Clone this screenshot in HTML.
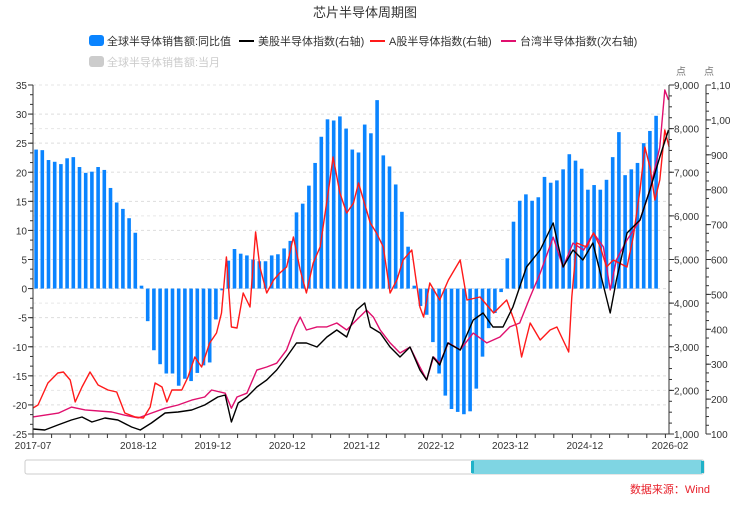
<!DOCTYPE html>
<html><head><meta charset="utf-8">
<style>
body{margin:0;background:#fff;width:730px;height:500px;overflow:hidden;font-family:"Liberation Sans","Noto Sans CJK SC",sans-serif;}
svg text{font-family:"Liberation Sans","Noto Sans CJK SC",sans-serif;}
</style></head>
<body>
<svg id="chart" width="730" height="500">
<text x="365" y="17" text-anchor="middle" font-size="13" fill="#333">芯片半导体周期图</text>
<g><rect x="89" y="35" width="15" height="11" rx="3" fill="#0a84ff"/><text x="107" y="45" font-size="11" fill="#333">全球半导体销售额:同比值</text></g>
<g><line x1="239" y1="41" x2="254" y2="41" stroke="#000" stroke-width="2"/><text x="258" y="45" font-size="11" fill="#333">美股半导体指数(右轴)</text></g>
<g><line x1="370" y1="41" x2="385" y2="41" stroke="#ff1a1a" stroke-width="2"/><text x="389" y="45" font-size="11" fill="#333">A股半导体指数(右轴)</text></g>
<g><line x1="501" y1="41" x2="516" y2="41" stroke="#e0106e" stroke-width="2"/><text x="520" y="45" font-size="11" fill="#333">台湾半导体指数(次右轴)</text></g>
<g><rect x="89" y="56" width="15" height="11" rx="3" fill="#ccc"/><text x="107" y="66" font-size="11" fill="#ccc">全球半导体销售额:当月</text></g>
<text x="676" y="75" font-size="10" fill="#777">点</text>
<text x="704" y="75" font-size="10" fill="#777">点</text>
<g id="grid"></g><g id="bars"></g><g id="lines"></g><g id="axes"></g>
<g>
<rect x="25" y="460" width="679" height="14" rx="2" fill="#fff" stroke="#ccc"/>
<rect x="472" y="460" width="230" height="14" fill="#7fd5e3"/>
<rect x="471" y="461" width="3" height="12" fill="#20b2c8"/>
<rect x="701" y="461" width="3" height="12" fill="#20b2c8"/>
</g>
<text x="710" y="493" text-anchor="end" font-size="11" fill="#e8202a">数据来源：Wind</text>
</svg>
<script>
const salesYoY=[23.9,23.8,22.1,21.8,21.4,22.4,22.6,20.9,19.9,20.1,20.9,20.4,17.3,14.8,13.7,12.1,9.6,0.5,
-5.6,-10.6,-13,-14.6,-14.6,-16.7,-15.5,-15.9,-14.5,-13.2,-12.7,-5.3,-0.3,4.8,
6.8,6.0,5.7,5.0,4.7,4.7,5.7,5.9,6.9,8.2,13.1,14.6,17.7,21.6,26.1,29.1,28.9,29.6,27.5,23.9,23.4,28.2,26.7,32.4,22.9,21.0,17.9,13.2,7.2,
0.5,-3.0,-4.5,-9.2,-14.6,-18.4,-20.7,-21.2,-21.6,-21.1,-17.2,-11.7,-6.8,-4.2,-0.6,5.2,11.5,15.1,16.2,15.1,15.7,19.2,18.2,18.6,20.5,23.1,22.0,20.6,17.0,17.8,17.0,18.7,22.6,26.9,19.5,20.5,21.6,25.0,27.1,29.7];
const usT=[0,1.9,4.0,6.2,7.9,9.5,11.6,13.7,15.9,17.3,19.1,21.3,23.4,25.6,27.7,29.8,31.0,32.0,33.1,34.5,36.1,37.7,39.3,40.9,42.5,44.1,45.8,47.4,49.0,50.6,52.2,53.5,54.4,56.0,57.6,59.2,60.8,62.4,63.5,64.5,65.6,66.9,68.9,71.0,72.6,74.2,75.8,77.4,79.6,81.8,83.9,85.5,87.1,88.7,90.3,91.5,93.1,94.1,95.8,97.9,99.5,101.1,102.5];
const usVal=[1115,1092,1206,1321,1390,1275,1367,1321,1160,1092,1252,1481,1504,1550,1665,1848,1894,1275,1711,1848,2077,2238,2467,2765,3086,3086,2994,3223,3384,3223,3842,4003,3452,3315,2994,2765,2994,2467,2238,2765,2581,3086,2925,3613,3773,3452,3452,3911,4828,5217,5836,4828,5217,4988,5378,4690,3773,4530,5607,5905,6592,7349,7968];
const aT=[0,0.8,2.4,4.0,4.9,6.0,6.8,7.9,9.2,10.5,12.1,13.5,14.8,16.5,17.8,18.9,19.7,20.8,21.6,22.4,24.0,25.0,26.1,27.2,28.5,29.6,30.4,31.2,32.0,32.9,33.9,35.0,35.9,36.6,37.7,38.8,39.8,40.9,42.0,43.1,44.1,45.2,46.3,47.6,48.4,49.5,50.6,51.7,52.5,53.3,54.4,55.4,56.5,57.6,58.7,59.7,61.1,62.4,63.0,64.0,65.6,67.0,68.9,70.0,72.1,74.3,76.4,78.0,78.8,80.2,81.8,83.4,84.5,86.4,86.9,87.7,89.3,90.4,91.5,92.5,93.6,95.8,96.8,97.9,98.7,99.5,100.3,101.1,101.9,102.6];
const aVal=[1596,1665,2169,2398,2421,2238,1733,2077,2421,2123,2008,1963,1481,1390,1367,1619,2169,2077,1733,2008,2008,2306,2765,2536,3086,3315,3773,5057,3452,3430,4232,3911,5630,4828,4232,4530,4690,4828,5515,4759,4232,4919,5286,6524,7349,6524,6065,6295,6753,6363,5836,5607,5286,4232,4530,4988,5217,3911,3682,4461,4071,4530,4988,4071,4140,3773,4071,3452,2765,3544,3154,3384,3452,2879,4140,5378,5286,5607,5286,4828,4988,4828,5515,6592,7578,7120,6363,6822,7968,7578];
const twT=[0,4.1,6.2,8.4,12.7,14.8,17.0,19.1,21.3,23.4,25.6,27.7,28.8,31.0,32.0,32.9,34.5,36.1,37.7,39.3,40.9,42.3,43.1,44.1,45.8,47.4,49.0,50.6,52.2,53.8,54.9,56.0,57.6,59.2,60.8,62.4,63.5,64.6,65.6,67.0,68.9,71.0,73.2,75.3,76.9,78.5,80.2,81.8,83.9,85.5,87.1,88.8,90.4,92.0,93.1,94.1,95.8,97.9,99.5,101.1,101.9,102.5];
const twVal=[149,160,177,169,163,154,146,160,174,183,197,206,226,217,174,206,217,283,292,303,341,407,435,398,407,407,418,398,427,455,435,398,361,332,349,292,255,321,303,361,341,389,361,378,407,418,493,561,664,578,647,627,676,636,513,599,656,713,799,922,1086,1057];
const leftTicks=[35,30,25,20,15,10,5,0,-5,-10,-15,-20,-25];
const rightTicks=[9000,8000,7000,6000,5000,4000,3000,2000,1000];
const right2Ticks=[1100,1000,900,800,700,600,500,400,300,200,100];
const xLabels=["2017-07","2018-12","2019-12","2020-12","2021-12","2022-12","2023-12","2024-12","2026-02"];
const xLabelT=[0,17,29,41,53,65,77,89,103];

const NS="http://www.w3.org/2000/svg";
const X0=33,X1=669,TOP=85,BOT=434,MW=6.2;
const xT=t=>X0+t*MW;
const yL=v=>TOP+(35-v)/60*(BOT-TOP);
const yR=v=>TOP+(9000-v)/8000*(BOT-TOP);
const yR2=v=>TOP+(1100-v)/1000*(BOT-TOP);
function mk(tag,attrs,parent){const e=document.createElementNS(NS,tag);for(const k in attrs)e.setAttribute(k,attrs[k]);parent.appendChild(e);return e;}
const grid=document.getElementById('grid'),bars=document.getElementById('bars'),lines=document.getElementById('lines'),axes=document.getElementById('axes');
// grid
leftTicks.forEach(v=>{const l=mk('line',{x1:X0,x2:X1,y1:yL(v),y2:yL(v),stroke:'#ddd','stroke-dasharray':'3,3'},grid);

});
rightTicks.forEach(v=>{const l=mk('line',{x1:X0,x2:X1,y1:yR(v),y2:yR(v),stroke:'#e6e6e6','stroke-dasharray':'3,3'},grid);

});
// bars
salesYoY.forEach((v,i)=>{const cx=xT(i+0.5);const y0=yL(0),y1=yL(v);
const r=mk('rect',{x:cx-1.8,y:Math.min(y0,y1),width:3.6,height:Math.max(0.8,Math.abs(y1-y0)),fill:'#0a84ff'},bars);

});
// lines
function path(ts,vs,fy,color,name){let d='';ts.forEach((t,i)=>{d+=(i?'L':'M')+xT(t).toFixed(1)+','+fy(vs[i]).toFixed(1);});
const p=mk('path',{d:d,fill:'none',stroke:color,'stroke-width':1.4,'stroke-linejoin':'round'},lines);

}
path(twT,twVal,yR2,'#e0106e','line-taiwan-semi-index');
path(aT,aVal,yR,'#ff1a1a','line-a-share-semi-index');
path(usT,usVal,yR,'#000','line-us-semi-index');
// left axis
mk('line',{x1:X0,x2:X0,y1:TOP,y2:BOT,stroke:'#333'},axes);
for(let v=35;v>=-25;v-=5/3){mk('line',{x1:X0-3,x2:X0,y1:yL(v),y2:yL(v),stroke:'#333'},axes);}
leftTicks.forEach(v=>{mk('line',{x1:X0-5,x2:X0,y1:yL(v),y2:yL(v),stroke:'#333'},axes);
const t=mk('text',{x:X0-6,y:yL(v)+4,'text-anchor':'end','font-size':10,fill:'#333'},axes);t.textContent=v;

});
// right axis
mk('line',{x1:X1,x2:X1,y1:TOP,y2:BOT,stroke:'#333'},axes);
for(let v=1000;v<=9000;v+=250){mk('line',{x1:X1,x2:X1+3,y1:yR(v),y2:yR(v),stroke:'#333'},axes);}
rightTicks.forEach(v=>{mk('line',{x1:X1,x2:X1+5,y1:yR(v),y2:yR(v),stroke:'#333'},axes);
const t=mk('text',{x:X1+5,y:yR(v)+4,'font-size':10,fill:'#333'},axes);t.textContent=v.toLocaleString('en-US');

});
// second right axis
const X2=706;
mk('line',{x1:X2,x2:X2,y1:TOP,y2:BOT,stroke:'#333'},axes);
for(let v=100;v<=1100;v+=25){mk('line',{x1:X2,x2:X2+3,y1:yR2(v),y2:yR2(v),stroke:'#333'},axes);}
right2Ticks.forEach(v=>{mk('line',{x1:X2,x2:X2+5,y1:yR2(v),y2:yR2(v),stroke:'#333'},axes);
const t=mk('text',{x:X2+5,y:yR2(v)+4,'font-size':10,fill:'#333'},axes);t.textContent=v.toLocaleString('en-US');

});
// x axis
mk('line',{x1:X0,x2:X1,y1:BOT,y2:BOT,stroke:'#333'},axes);
for(let t=0;t*MW+X0<=X1;t+=3){mk('line',{x1:xT(t),x2:xT(t),y1:BOT,y2:BOT+4,stroke:'#333'},axes);}
xLabels.forEach((s,i)=>{const t=mk('text',{x:Math.min(xT(xLabelT[i]),670),y:BOT+15,'text-anchor':'middle','font-size':10,fill:'#333'},axes);t.textContent=s;

});
</script>
</body></html>
